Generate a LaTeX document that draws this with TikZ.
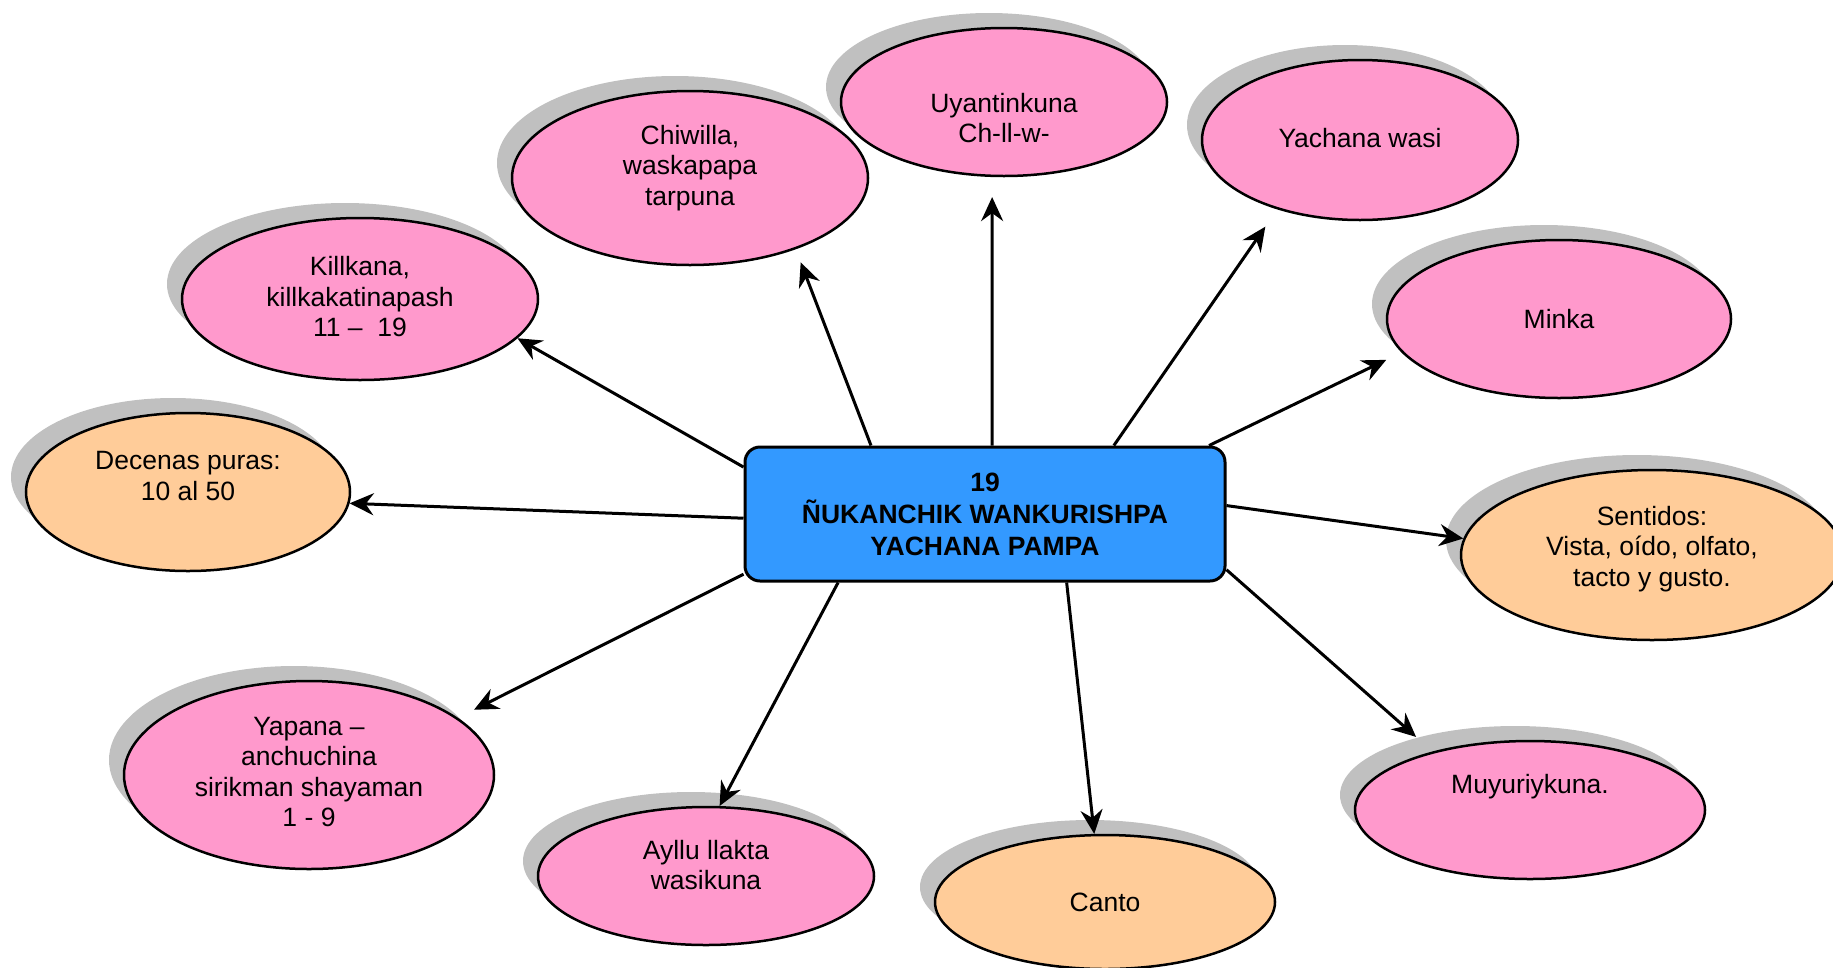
\documentclass[tikz,border=0pt]{standalone}
\usepackage{fontspec}
\setmainfont{Liberation Sans}
\usetikzlibrary{arrows.meta, shapes.geometric, shadows}
\definecolor{rosa}{HTML}{FF99CC}
\definecolor{naranja}{HTML}{FFCC99}
\definecolor{azul}{HTML}{3399FF}
\definecolor{sombra}{HTML}{C0C0C0}

\begin{document}
\begin{tikzpicture}[x=1pt, y=-1pt]
\tikzstyle{every node}=[font=\fontsize{26.5}{30.5}\selectfont]
\tikzstyle{bubble}=[draw, ellipse, line width=2.5pt, inner sep=0pt, drop shadow={shadow xshift=-15pt, shadow yshift=15pt, fill=sombra, opacity=1}]
\tikzstyle{txt}=[align=center, inner sep=0pt]
\tikzstyle{arrow}=[-{Stealth[length=24pt, width=22pt, inset=8pt]}, line width=3pt]
\useasboundingbox (0,0) rectangle (1833,967);

\node[bubble, fill=rosa, minimum width=356pt, minimum height=162pt] (killkana) at (360,299) {};
\node[bubble, fill=rosa, minimum width=356pt, minimum height=174pt] (chiwilla) at (690,178) {};
\node[bubble, fill=rosa, minimum width=326pt, minimum height=148pt] (uyantin) at (1004,102) {};
\node[bubble, fill=rosa, minimum width=316pt, minimum height=160pt] (yachana) at (1360,140) {};
\node[bubble, fill=rosa, minimum width=344pt, minimum height=158pt] (minka) at (1559,319) {};
\node[bubble, fill=naranja, minimum width=382pt, minimum height=170pt] (sentidos) at (1652,555) {};
\node[bubble, fill=rosa, minimum width=350pt, minimum height=138pt] (muyuri) at (1530,810) {};
\node[bubble, fill=naranja, minimum width=340pt, minimum height=134pt] (canto) at (1105,902) {};
\node[bubble, fill=rosa, minimum width=336pt, minimum height=138pt] (ayllu) at (706,876) {};
\node[bubble, fill=rosa, minimum width=370pt, minimum height=188pt] (yapana) at (309,775) {};
\node[bubble, fill=naranja, minimum width=324pt, minimum height=158pt] (decenas) at (188,492) {};

\node[txt] (killkana-t) at ([yshift=2pt]killkana.center) {Killkana,\\killkakatinapash\\11 –\ \ 19};
\node[txt] (chiwilla-t) at ([yshift=10pt]chiwilla.center) {Chiwilla,\\waskapapa\\tarpuna};
\node[txt] (uyantin-t) at ([yshift=-16pt]uyantin.center) {Uyantinkuna\\Ch-ll-w-};
\node[txt] (yachana-t) at ([yshift=2pt]yachana.center) {Yachana wasi};
\node[txt] (minka-t) at (minka.center) {Minka};
\node[txt] (sentidos-t) at ([yshift=6pt]sentidos.center) {Sentidos:\\Vista, oído, olfato,\\tacto y gusto.};
\node[txt] (muyuri-t) at ([yshift=23pt]muyuri.center) {Muyuriykuna.};
\node[txt] (canto-t) at (canto.center) {Canto};
\node[txt] (ayllu-t) at ([yshift=11pt]ayllu.center) {Ayllu llakta\\wasikuna};
\node[txt] (yapana-t) at ([yshift=3pt]yapana.center) {Yapana –\\anchuchina\\sirikman shayaman\\1 - 9};
\node[txt] (decenas-t) at ([yshift=16pt]decenas.center) {Decenas puras:\\10 al 50};

\node[draw, line width=3pt, rounded corners=15pt, fill=azul, minimum width=480pt, minimum height=134pt, align=center, font=\bfseries\fontsize{26.5}{32}\selectfont] (hub) at (985,514) {19\\ÑUKANCHIK WANKURISHPA\\YACHANA PAMPA};

\path[arrow]
(hub.169.6) edge (killkana.-14.7)
(hub.149.1) edge[shorten >=14pt] (chiwilla.-34.5)
(hub.84) edge[shorten >=20pt] (uyantin.-99.2)
(hub.28.8) edge[shorten >=21pt] (yachana.-140)
(hub.17.2) edge[shorten >=17pt] (minka.-168.3)
(hub.2.1) edge (sentidos.175.8)
(hub.-13.8) edge[shorten >=22pt] (muyuri.149.5)
(hub.-40.7) edge (canto.99.6)
(hub.-155.1) edge (ayllu.79.3)
(hub.-166.4) edge[shorten >=18pt] (yapana.21.9)
(hub.-179) edge (decenas.-4.6);

\end{tikzpicture}
\end{document}
